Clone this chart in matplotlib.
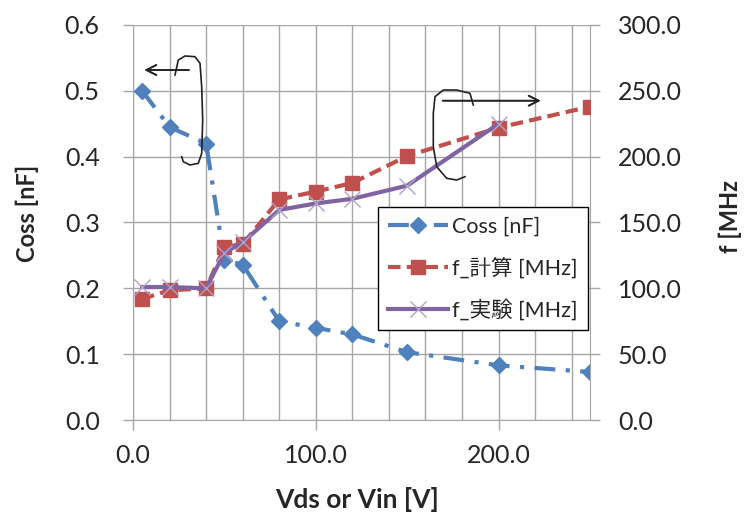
import matplotlib
matplotlib.use("Agg")
import matplotlib.pyplot as plt
from matplotlib.ticker import MultipleLocator, FormatStrFormatter
from matplotlib.lines import Line2D

plt.rcParams['font.family'] = ['Lato', 'Noto Sans CJK JP', 'DejaVu Sans']

# Coss [nF] (left axis)
vds_coss = [5, 20, 40, 50, 60, 80, 100, 120, 150, 200, 250]
coss = [0.50, 0.445, 0.42, 0.243, 0.236, 0.15, 0.14, 0.13, 0.103, 0.083, 0.073]

# f_計算 [MHz] (right axis)
vin_calc = [5, 20, 40, 50, 60, 80, 100, 120, 150, 200, 250]
f_calc = [92, 98.5, 100, 131.5, 133.5, 167.5, 173.5, 180, 200.5, 222, 238]

# f_実験 [MHz] (right axis)
vin_exp = [5, 20, 40, 50, 60, 80, 100, 120, 150, 200]
f_exp = [101, 101, 100, 127, 135, 159.5, 164.5, 168, 178, 225]

blue = '#4F81BD'
red = '#C0504D'
purple = '#8064A2'
grid_c = '#A6A6A6'
txt_c = '#262626'

fig = plt.figure(figsize=(7.46, 5.2), dpi=100)
ax = fig.add_axes([133/746, 1 - 420/520, 457/746, 395/520])
ax2 = ax.twinx()

ax.set_xlim(0, 250)
ax.set_ylim(0, 0.6)
ax2.set_ylim(0, 300)

ax.xaxis.set_major_locator(MultipleLocator(100))
ax.xaxis.set_minor_locator(MultipleLocator(20))
ax.yaxis.set_major_locator(MultipleLocator(0.1))
ax2.yaxis.set_major_locator(MultipleLocator(50))
ax.xaxis.set_major_formatter(FormatStrFormatter('%.1f'))
ax.yaxis.set_major_formatter(FormatStrFormatter('%.1f'))
ax2.yaxis.set_major_formatter(FormatStrFormatter('%.1f'))

ax.grid(True, which='both', axis='x', color=grid_c, lw=1)
ax.grid(True, which='major', axis='y', color=grid_c, lw=1)
ax.set_axisbelow(True)

for a in (ax, ax2):
    for s in a.spines.values():
        s.set_visible(False)
    a.tick_params(which='major', length=7, width=1, color=grid_c,
                  labelsize=18, labelcolor=txt_c)
    a.tick_params(which='minor', length=0)
ax.tick_params(axis='y', pad=17)
ax.tick_params(axis='x', pad=10)
ax2.tick_params(axis='y', pad=13)
ax.spines['left'].set_visible(True)
ax.spines['left'].set_color(grid_c)
ax.spines['bottom'].set_visible(True)
ax.spines['bottom'].set_color(grid_c)
ax2.spines['right'].set_visible(True)
ax2.spines['right'].set_color(grid_c)

l1, = ax.plot(vds_coss, coss, color=blue, lw=3, ls=(0, (5, 2.5, 1, 2.5)),
              marker='D', ms=8, mfc=blue, mec=blue, zorder=3)
l2, = ax2.plot(vin_calc, f_calc, color=red, lw=3, ls=(0, (3, 1.5)),
               marker='s', ms=10.5, mfc=red, mec=red, zorder=3)
l3, = ax2.plot(vin_exp, f_exp, color=purple, lw=3, ls='-',
               marker='x', ms=11, mew=1, mec='#B3A2C7', zorder=4)

ax.set_xlabel('Vds or Vin [V]', fontsize=19, fontweight='bold', color=txt_c)
ax.xaxis.set_label_coords(0.49, -0.2)
ax.xaxis.label.set_va('center')
ax.set_ylabel('Coss [nF]', fontsize=17, fontweight='bold', color=txt_c)
ax.yaxis.set_label_coords(-0.232, 0.524)
ax.yaxis.label.set_va('center')
ax2.set_ylabel('f [MHz', fontsize=17, fontweight='bold', color=txt_c, rotation=90)
ax2.yaxis.set_label_coords(1.308, 0.516)
ax2.yaxis.label.set_va('center')

leg = ax2.legend([l1, l2, l3], ['Coss [nF]', 'f_計算 [MHz]', 'f_実験 [MHz]'],
                 loc='upper left', bbox_to_anchor=(0.536, 0.539),
                 fontsize=15.5, frameon=True, fancybox=False, edgecolor='black',
                 framealpha=1, handlelength=2.8, borderpad=0.45, labelspacing=0.95,
                 handletextpad=0.2, borderaxespad=0)
leg.get_frame().set_linewidth(1)
for t in leg.get_texts():
    t.set_color(txt_c)

# hand drawn brackets and arrows (figure pixel positions)
def fp(pts):
    return [p[0] / 746 for p in pts], [1 - p[1] / 520 for p in pts]

left_br = [(175, 75), (178.3, 60), (185, 56), (195, 56.7), (200, 63.3), (201.7, 86.7),
           (202.7, 120), (201.7, 153.3), (198.3, 163.3), (190, 165), (183.3, 161.7),
           (181.7, 156.7)]
right_br = [(473.3, 105), (470, 93.3), (456.7, 90), (443.3, 90), (435, 96.7),
            (433.3, 113.3), (433.3, 146.7), (436.7, 166.7), (446.7, 178.3),
            (456.7, 180), (465, 176.7)]
for br in (left_br, right_br):
    xs, ys = fp(br)
    fig.add_artist(Line2D(xs, ys, color='#222222', lw=1.2, transform=fig.transFigure,
                          zorder=10))

fig.add_artist(plt.annotate('', xy=(141.7/746, 1 - 70/520), xytext=(191.7/746, 1 - 70/520),
                            xycoords='figure fraction',
                            arrowprops=dict(arrowstyle='->', color='#222222', lw=1.2,
                                            mutation_scale=18)))
fig.add_artist(plt.annotate('', xy=(543.3/746, 1 - 100.7/520), xytext=(440/746, 1 - 100.7/520),
                            xycoords='figure fraction',
                            arrowprops=dict(arrowstyle='->', color='#222222', lw=1.2,
                                            mutation_scale=18)))

fig.savefig('out.png', dpi=100)
